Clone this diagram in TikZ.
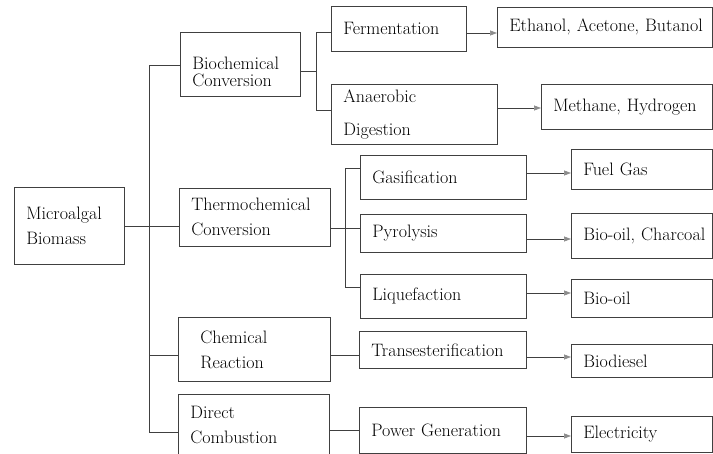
\documentclass[tikz,border=0pt]{standalone}
\usetikzlibrary{arrows.meta}

\begin{document}
\begin{tikzpicture}[
    x=1pt, y=-1pt,
    block/.style={rectangle, draw=black!75, line width=0.7pt, anchor=north west, inner xsep=12pt, inner ysep=0pt, align=left, font=\fontsize{18}{25}\selectfont},
    link/.style={draw=black!75, line width=0.7pt},
    arrow/.style={link, -{Triangle[length=7pt, width=5pt, fill=black!45, color=black!45]}}
]
\useasboundingbox (0,0) rectangle (713,453);

% first level
\node[block, text width=86pt, minimum height=77pt] (biomass) at (14,187) {Microalgal\\Biomass};
\node[block, text width=96pt, minimum height=64pt] (biochem) at (180,32) {\mbox{}\\[2pt]Biochemical\\[-8pt]Conversion};
\node[block, text width=127pt, minimum height=58pt] (thermo) at (179,188) {Thermochemical\\Conversion};
\node[block, inner xsep=22pt, text width=108pt, minimum height=64pt] (chemical) at (178,317) {Chemical\\Reaction};
\node[block, text width=127pt, minimum height=62pt] (direct) at (178,394) {Direct\\Combustion};

% processes
\node[block, text width=111pt, minimum height=45pt] (ferment) at (331,6) {Fermentation};
\node[block, text width=142pt, minimum height=60pt] (anaerobic) at (331,84) {Anaerobic\\[8pt]Digestion};
\node[block, text width=142pt, minimum height=44pt] (gasif) at (360,155) {Gasification};
\node[block, text width=142pt, minimum height=38pt] (pyro) at (360,214) {Pyrolysis};
\node[block, text width=142pt, minimum height=44pt] (liquef) at (360,274) {Liquefaction};
\node[block, text width=143pt, minimum height=37pt] (transest) at (359,331) {Transesterification};
\node[block, text width=143pt, minimum height=46pt] (power) at (359,407) {Power Generation};

% products
\node[block, text width=191pt, minimum height=40pt] (ethanol) at (497,7) {\mbox{Ethanol, Acetone, Butanol}};
\node[block, text width=147pt, minimum height=45pt] (methane) at (541,84) {\mbox{Methane, Hydrogen}};
\node[block, text width=117pt, minimum height=40pt] (fuelgas) at (571,149) {Fuel Gas};
\node[block, text width=117pt, minimum height=45pt] (biochar) at (571,213) {\mbox{Bio-oil, Charcoal}};
\node[block, text width=117pt, minimum height=38pt] (biooil) at (571,279) {Bio-oil};
\node[block, text width=117pt, minimum height=33pt] (biodiesel) at (571,344) {Biodiesel};
\node[block, text width=117pt, minimum height=36pt] (elec) at (571,416) {Electricity};

% tree lines
\coordinate (trunktop) at (149,65);
\coordinate (trunkbot) at (149,432);
\coordinate (biotop) at (316,32);
\coordinate (biobot) at (316,110);
\coordinate (thermotop) at (345,168);
\coordinate (thermobot) at (345,287);

\draw[link] (trunktop) -- (trunkbot);
\draw[link] (trunktop) -- (trunktop -| biochem.west);
\draw[link] (biomass.east) -- (biomass.east -| thermo.west);
\draw[link] (trunkbot |- 0,355) -- (chemical.west |- 0,355);
\draw[link] (trunkbot) -- (trunkbot -| direct.west);

\draw[link] (biochem.east |- 0,71) -- (biotop |- 0,71);
\draw[link] (biotop -| ferment.west) -- (biotop) -- (biobot) -- (biobot -| anaerobic.west);
\draw[link] (thermotop -| gasif.west) -- (thermotop) -- (thermobot) -- (thermobot -| liquef.west);
\draw[link] (thermo.east |- 0,228) -- (pyro.west |- 0,228);
\draw[link] (chemical.east |- 0,355) -- (transest.west |- 0,355);
\draw[link] (direct.east |- 0,430) -- (power.west |- 0,430);

% arrows to products
\draw[arrow] (ferment.east |- 0,33) -- (ethanol.west |- 0,33);
\draw[arrow] (anaerobic.east |- 0,108) -- (methane.west |- 0,108);
\draw[arrow] (gasif.east |- 0,173) -- (fuelgas.west |- 0,173);
\draw[arrow] (pyro.east |- 0,239) -- (biochar.west |- 0,239);
\draw[arrow] (liquef.east |- 0,293) -- (biooil.west |- 0,293);
\draw[arrow] (transest.east |- 0,357) -- (biodiesel.west |- 0,357);
\draw[arrow] (power.east |- 0,436) -- (elec.west |- 0,436);

\end{tikzpicture}
\end{document}
